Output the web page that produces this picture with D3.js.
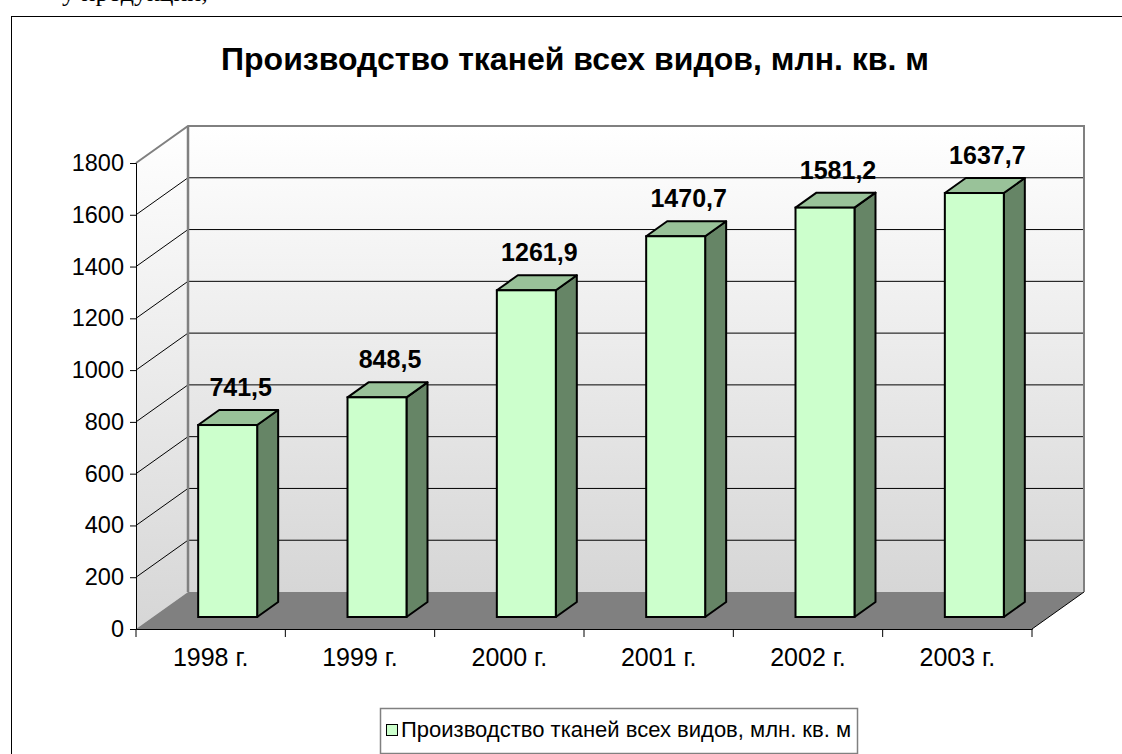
<!DOCTYPE html>
<meta charset="utf-8">
<title>Производство тканей</title>
<style>
body{ margin:0; background:#fff; }
svg{ display:block; }
</style>
<body>
<script src="https://d3js.org/d3.v7.min.js"></script>
<script>

var years = ['1998 г.', '1999 г.', '2000 г.', '2001 г.', '2002 г.', '2003 г.'];
var values = [741.5, 848.5, 1261.9, 1470.7, 1581.2, 1637.7];
var labels = ['741,5', '848,5', '1261,9', '1470,7', '1581,2', '1637,7'];
var yTicks = [0, 200, 400, 600, 800, 1000, 1200, 1400, 1600, 1800];
var title = 'Производство тканей всех видов, млн. кв. м';

var W = 1122, H = 754;
var font = '"Liberation Sans", Arial, sans-serif';

// 3d offsets
var depth = {x: 52, y: -37};
var barShift = {x: 17, y: -12};
var barDepth = {x: 21, y: -15};

var x = d3.scaleBand().domain(years).range([136, 1032]);
var y = d3.scaleLinear().domain([0, 1800]).range([629, 163]);
var hScale = (y(0) - y(1800)) / 1800;

var svg = d3.select('body').append('svg')
	.attr('width', W)
	.attr('height', H);

var defs = svg.append('defs');
var grad = defs.append('linearGradient')
	.attr('id', 'wall')
	.attr('x1', 0).attr('y1', 0).attr('x2', 0).attr('y2', 1);
grad.append('stop').attr('offset', '0%').attr('stop-color', '#ffffff');
grad.append('stop').attr('offset', '100%').attr('stop-color', '#d6d6d6');

// cut-off text from the page above
svg.append('text')
	.attr('x', 62).attr('y', 1)
	.attr('font-family', '"Liberation Serif", "Times New Roman", serif')
	.attr('font-size', 26)
	.text('у продукции,');

// outer frame
svg.append('rect')
	.attr('x', 11.5).attr('y', 16.5)
	.attr('width', W + 20).attr('height', H + 20)
	.attr('fill', 'white')
	.attr('stroke', 'black');

// title
svg.append('text')
	.attr('x', 575).attr('y', 70)
	.attr('text-anchor', 'middle')
	.attr('font-family', font)
	.attr('font-weight', 'bold')
	.attr('font-size', 32)
	.text(title);

var xL = x.range()[0], xR = x.range()[1];
var yTop = y(1800), yBase = y(0);

function pts(a){ return a.map(function(p){ return p.join(','); }).join(' '); }

// side wall
svg.append('polygon')
	.attr('points', pts([[xL, yTop], [xL + depth.x, yTop + depth.y], [xL + depth.x, yBase + depth.y], [xL, yBase]]))
	.attr('fill', 'url(#wall)');

// back wall
svg.append('rect')
	.attr('x', xL + depth.x).attr('y', yTop + depth.y)
	.attr('width', xR - xL).attr('height', yBase - yTop)
	.attr('fill', 'url(#wall)');

// floor
svg.append('polygon')
	.attr('points', pts([[xL, yBase], [xL + depth.x, yBase + depth.y], [xR + depth.x, yBase + depth.y], [xR, yBase]]))
	.attr('fill', '#808080');
svg.append('line')
	.attr('x1', xR).attr('y1', yBase)
	.attr('x2', xR + depth.x).attr('y2', yBase + depth.y)
	.attr('stroke', '#000');

// gridlines
var grid = svg.append('g');
yTicks.filter(function(d){ return d > 0 && d < 1800; }).forEach(function(d){
	grid.append('polyline')
		.attr('points', pts([[xL, y(d)], [xL + depth.x, y(d) + depth.y], [xR + depth.x, y(d) + depth.y]]))
		.attr('fill', 'none')
		.attr('stroke', '#000')
		.attr('stroke-width', 1);
});

// wall borders
svg.append('polyline')
	.attr('points', pts([[xL, yTop], [xL + depth.x, yTop + depth.y], [xR + depth.x, yTop + depth.y], [xR + depth.x, yBase + depth.y]]))
	.attr('fill', 'none')
	.attr('stroke', '#808080')
	.attr('stroke-width', 2);
svg.append('line')
	.attr('x1', xL + depth.x).attr('y1', yTop + depth.y)
	.attr('x2', xL + depth.x).attr('y2', yBase + depth.y)
	.attr('stroke', '#808080')
	.attr('stroke-width', 2.5);

// y axis
var yAxis = d3.axisLeft(y).tickValues(yTicks).tickSize(6).tickPadding(6).tickFormat(d3.format('d'));
var gy = svg.append('g').attr('transform', 'translate(' + xL + ',0)').call(yAxis);
gy.select('.domain').attr('stroke', '#000');
gy.selectAll('text').attr('font-family', font).attr('font-size', 23.5).attr('fill', '#000');

// x axis
var xAxis = d3.axisBottom(x).tickSize(0).tickPadding(19);
var gx = svg.append('g').attr('transform', 'translate(0,' + yBase + ')').call(xAxis);
gx.select('.domain').attr('stroke', '#000');
gx.selectAll('text').attr('font-family', font).attr('font-size', 25).attr('fill', '#000');
gx.selectAll('.sep')
	.data(d3.range(years.length + 1))
	.enter().append('line')
	.attr('x1', function(i){ return xL + i * x.bandwidth(); })
	.attr('x2', function(i){ return xL + i * x.bandwidth(); })
	.attr('y1', 0).attr('y2', 8)
	.attr('stroke', '#000');

// bars
var bw = x.bandwidth() * 0.395;
var bars = svg.append('g').selectAll('g')
	.data(values)
	.enter().append('g');

function front(d, i){ return x(years[i]) + (x.bandwidth() - bw) / 2 + barShift.x; }
var barBase = yBase + barShift.y;

bars.append('polygon')
	.attr('points', function(d, i){
		var fx = front(d, i), ty = barBase - d * hScale;
		return pts([[fx + bw, ty], [fx + bw + barDepth.x, ty + barDepth.y], [fx + bw + barDepth.x, barBase + barDepth.y], [fx + bw, barBase]]);
	})
	.attr('fill', '#668566')
	.attr('stroke', '#000').attr('stroke-width', 2).attr('stroke-linejoin', 'round');

bars.append('polygon')
	.attr('points', function(d, i){
		var fx = front(d, i), ty = barBase - d * hScale;
		return pts([[fx, ty], [fx + barDepth.x, ty + barDepth.y], [fx + bw + barDepth.x, ty + barDepth.y], [fx + bw, ty]]);
	})
	.attr('fill', '#99c299')
	.attr('stroke', '#000').attr('stroke-width', 2).attr('stroke-linejoin', 'round');

bars.append('rect')
	.attr('x', function(d, i){ return front(d, i); })
	.attr('y', function(d){ return barBase - d * hScale; })
	.attr('width', bw)
	.attr('height', function(d){ return d * hScale; })
	.attr('fill', '#ccffcc')
	.attr('stroke', '#000').attr('stroke-width', 2);

bars.append('text')
	.attr('x', function(d, i){ return front(d, i) + bw / 2 + 13; })
	.attr('y', function(d){ return barBase - d * hScale - 29; })
	.attr('text-anchor', 'middle')
	.attr('font-family', font)
	.attr('font-weight', 'bold')
	.attr('font-size', 25)
	.text(function(d, i){ return labels[i]; });

// legend
var lg = svg.append('g');
lg.append('rect')
	.attr('x', 380.5).attr('y', 708.5)
	.attr('width', 477).attr('height', 45)
	.attr('fill', 'white')
	.attr('stroke', '#808080')
	.attr('stroke-width', 1.5);
lg.append('rect')
	.attr('x', 386.5).attr('y', 724.5)
	.attr('width', 11).attr('height', 11)
	.attr('fill', '#ccffcc')
	.attr('stroke', '#000');
lg.append('text')
	.attr('x', 401).attr('y', 737)
	.attr('font-family', font)
	.attr('font-size', 22)
	.text(title);

</script>
</body>
